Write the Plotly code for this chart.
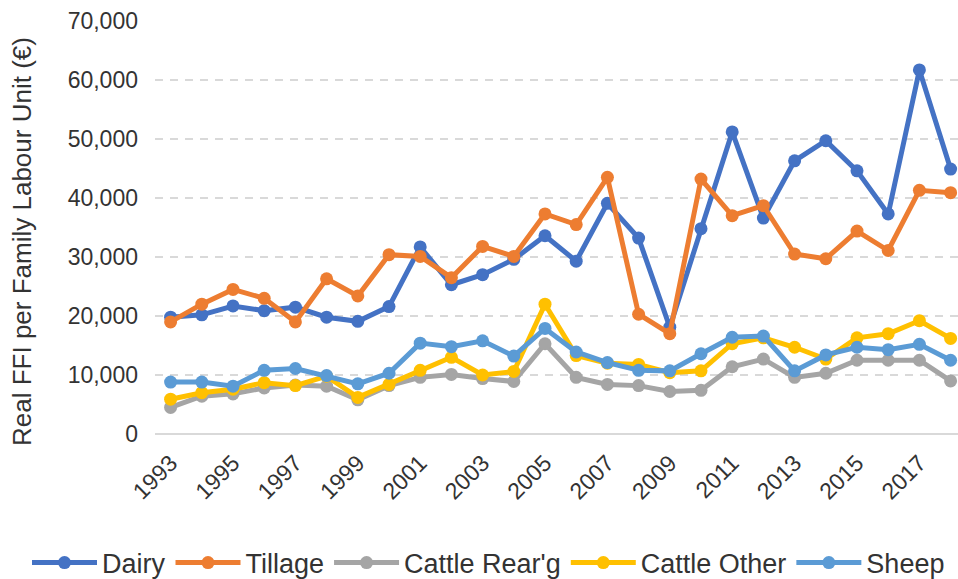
import plotly.graph_objects as go

years = list(range(1993, 2019))

dairy = [19800, 20200, 21700, 20900, 21500, 19800, 19100, 21600, 31700, 25300,
         27000, 29600, 33600, 29300, 39100, 33200, 18100, 34800, 51200, 36600,
         46300, 49700, 44600, 37300, 61700, 44900]
tillage = [19000, 22000, 24500, 23000, 19000, 26300, 23400, 30400, 30100, 26500,
           31800, 30100, 37300, 35500, 43500, 20300, 17000, 43200, 37000, 38700,
           30500, 29700, 34400, 31100, 41300, 40900]
cattle_rearg = [4500, 6400, 6800, 7800, 8300, 8100, 5800, 8200, 9600, 10100,
                9400, 8900, 15300, 9600, 8400, 8200, 7200, 7400, 11400, 12700,
                9600, 10300, 12500, 12500, 12500, 9000]
cattle_other = [5900, 7000, 7600, 8700, 8200, 9800, 6200, 8400, 10800, 13000,
                10000, 10600, 22000, 13300, 12000, 11800, 10400, 10700, 15300, 16300,
                14700, 12700, 16300, 17000, 19200, 16200]
sheep = [8800, 8800, 8100, 10800, 11100, 9900, 8500, 10300, 15400, 14800,
         15800, 13200, 17900, 13900, 12100, 10800, 10700, 13600, 16400, 16600,
         10700, 13400, 14700, 14300, 15200, 12500]

series = [
    ("Dairy", dairy, "#4472C4"),
    ("Tillage", tillage, "#ED7D31"),
    ("Cattle Rear'g", cattle_rearg, "#A5A5A5"),
    ("Cattle Other", cattle_other, "#FFC000"),
    ("Sheep", sheep, "#5B9BD5"),
]

tick_years = list(range(1993, 2019, 2))
y_ticks = list(range(0, 70001, 10000))
y_title = "Real FFI per Family Labour Unit (€)"

FONT = "Liberation Sans, Arial, sans-serif"
TXT = "#333333"

fig = go.Figure()
for name, vals, color in series:
    fig.add_trace(go.Scatter(
        x=years, y=vals, name=name, mode="lines+markers",
        line=dict(color=color, width=5),
        marker=dict(color=color, size=13),
    ))

fig.update_layout(
    width=958, height=579,
    margin=dict(l=155, r=0, t=21, b=145, autoexpand=False),
    paper_bgcolor="white", plot_bgcolor="white",
    font=dict(family=FONT, size=23, color=TXT),
    showlegend=True,
    legend=dict(orientation="h", xref="paper", yref="paper",
                x=-128 / 803, xanchor="left", y=-(563 - 434) / 413, yanchor="middle",
                font=dict(size=27, color=TXT), itemwidth=65,
                tracegroupgap=0),
    annotations=[dict(text=y_title, textangle=-90, showarrow=False,
                      xref="paper", yref="paper",
                      x=-(155 - 22) / 803, y=(434 - 242) / 413,
                      xanchor="center", yanchor="middle",
                      font=dict(size=26, color=TXT))],
)
fig.update_xaxes(
    range=[1992.5, 1992.5 + 803 / 31.2], automargin=False,
    tickmode="array", tickvals=tick_years, ticktext=[str(y) for y in tick_years],
    tickangle=-45, showgrid=False, zeroline=False, showline=False,
    ticks="", ticklabelstandoff=10,
    tickfont=dict(size=23, color=TXT),
)
fig.update_yaxes(
    range=[0, 70000], tickmode="array", tickvals=y_ticks, automargin=False,
    ticktext=[f"{v:,}" for v in y_ticks],
    showgrid=True, gridcolor="#D9D9D9", gridwidth=1.5, griddash="8px,7px",
    zeroline=True, zerolinecolor="#D9D9D9", zerolinewidth=2,
    showline=False, ticks="", ticklabelstandoff=16,
    tickfont=dict(size=23, color=TXT),
)

fig.write_html("out.html", config={"displayModeBar": False},
               post_script="document.body.style.margin='0';")
